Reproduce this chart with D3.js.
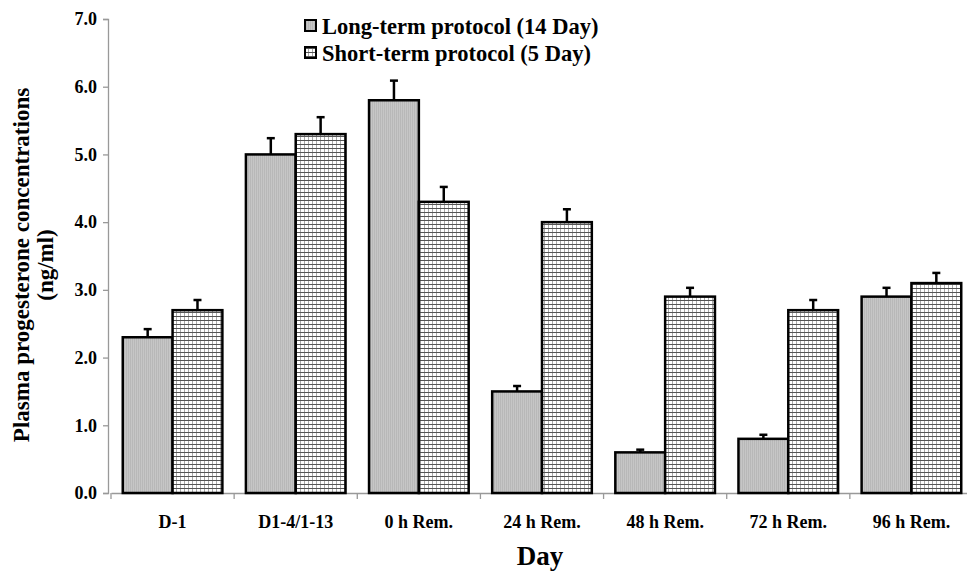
<!DOCTYPE html>
<html><head><meta charset="utf-8">
<script src="https://cdn.jsdelivr.net/npm/d3@7"></script>
<style>body{margin:0;background:#fff}svg{display:block}svg text{font-family:"Liberation Serif","Times New Roman","DejaVu Serif",serif;font-weight:bold}</style>
</head><body>
<svg id="c" width="967" height="571"></svg>
<script>
const categories = ["D-1","D1-4/1-13","0 h Rem.","24 h Rem.","48 h Rem.","72 h Rem.","96 h Rem."];
const seriesNames = ["Long-term protocol (14 Day)","Short-term protocol (5 Day)"];
const longTerm = [2.3,5.0,5.8,1.5,0.6,0.8,2.9];
const shortTerm = [2.7,5.3,4.3,4.0,2.9,2.7,3.1];
const longErr = [0.12,0.24,0.29,0.08,0.04,0.06,0.13];
const shortErr = [0.15,0.25,0.22,0.19,0.13,0.15,0.15];
const yTicks = [0,1,2,3,4,5,6,7];

const svg = d3.select("#c");
const x0 = 111, x1 = 973, yTop = 19, yBot = 493;

const defs = svg.append("defs");
const p1 = defs.append("pattern").attr("id","pLong").attr("patternUnits","userSpaceOnUse").attr("width",2).attr("height",2);
p1.append("rect").attr("width",2).attr("height",2).attr("fill","#c6c6c6");
p1.append("rect").attr("width",1).attr("height",2).attr("fill","#b8b8b8");
const p2 = defs.append("pattern").attr("id","pShort").attr("patternUnits","userSpaceOnUse").attr("width",4).attr("height",4);
p2.append("rect").attr("width",4).attr("height",4).attr("fill","#fff");
p2.append("rect").attr("width",1).attr("height",4).attr("fill","#a8a8a8");
p2.append("rect").attr("width",4).attr("height",1).attr("fill","#555");

const x = d3.scaleBand().domain(categories).range([x0,x1]).paddingInner(0).paddingOuter(0);
const xs = d3.scaleBand().domain([0,1]).range([0,x.bandwidth()]).paddingInner(0).paddingOuter(0.236);
const y = d3.scaleLinear().domain([0,7]).range([yBot,yTop]);

// y axis
const ya = svg.append("g").attr("transform",`translate(${x0-3},0)`)
  .call(d3.axisLeft(y).tickValues(yTicks).tickFormat(d3.format(".1f")).tickSize(5).tickPadding(6));
ya.attr("font-family",null);
ya.select(".domain").attr("stroke","#999").attr("stroke-width",1.3);
ya.selectAll(".tick line").attr("stroke","#999").attr("stroke-width",1.3);
ya.selectAll(".tick text").attr("font-size",18).attr("fill","#000");

// x axis
const xa = svg.append("g").attr("transform",`translate(0,${yBot})`)
  .call(d3.axisBottom(x).tickSize(0).tickPadding(22));
xa.attr("font-family",null);
xa.select(".domain").attr("stroke","#999").attr("stroke-width",1.3);
xa.selectAll(".tick text").attr("font-size",18).attr("fill","#000");
const bounds = categories.map(c=>x(c)).concat([x1]);
xa.selectAll(".bnd").data(bounds).enter().append("line").attr("class","bnd")
  .attr("x1",d=>d).attr("x2",d=>d).attr("y1",0).attr("y2",6).attr("stroke","#999").attr("stroke-width",1.3);

// bars
const series = [
  {vals:longTerm, err:longErr, fill:"url(#pLong)"},
  {vals:shortTerm, err:shortErr, fill:"url(#pShort)"}
];
series.forEach((s,si)=>{
  const g = svg.append("g");
  g.selectAll("rect").data(categories).enter().append("rect")
    .attr("x",c=>x(c)+xs(si)).attr("width",xs.bandwidth())
    .attr("y",(c,i)=>y(s.vals[i])).attr("height",(c,i)=>yBot-y(s.vals[i]))
    .attr("fill",s.fill).attr("stroke","#000").attr("stroke-width",2.5);
  const e = svg.append("g");
  categories.forEach((c,i)=>{
    const cx = x(c)+xs(si)+xs.bandwidth()/2;
    e.append("line").attr("x1",cx).attr("x2",cx).attr("y1",y(s.vals[i])).attr("y2",y(s.vals[i]+s.err[i]))
      .attr("stroke","#000").attr("stroke-width",2.5);
    e.append("line").attr("x1",cx-4).attr("x2",cx+4).attr("y1",y(s.vals[i]+s.err[i])).attr("y2",y(s.vals[i]+s.err[i]))
      .attr("stroke","#000").attr("stroke-width",2.5);
  });
});

// legend
const leg = svg.append("g");
seriesNames.forEach((n,i)=>{
  const ly = 26 + i*27;
  leg.append("rect").attr("x",305).attr("y",ly-6).attr("width",11).attr("height",11)
    .attr("fill",i===0?"url(#pLong)":"url(#pShort)").attr("stroke","#000").attr("stroke-width",2);
  leg.append("text").attr("x",322).attr("y",ly).attr("dy","0.35em").attr("font-size",22.5).text(n);
});

// axis titles
const yt = svg.append("text").attr("transform","translate(0,265) rotate(-90)")
  .attr("text-anchor","middle").attr("font-size",23);
yt.append("tspan").attr("x",0).attr("y",29).text("Plasma progesterone concentrations");
yt.append("tspan").attr("x",0).attr("y",53).text("(ng/ml)");

svg.append("text").attr("x",540).attr("y",565).attr("text-anchor","middle").attr("font-size",27).text("Day");
</script>
</body></html>
